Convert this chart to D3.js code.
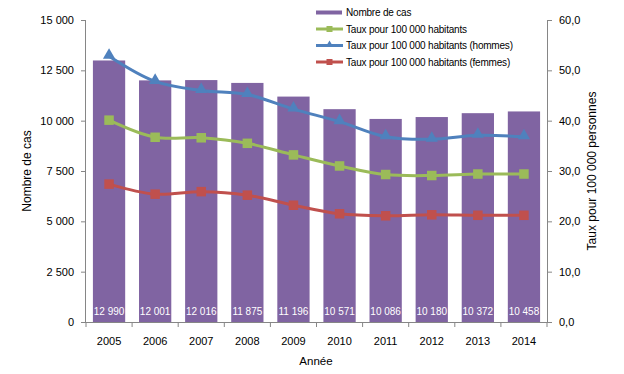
<!DOCTYPE html>
<html>
<head>
<meta charset="utf-8">
<script src="https://cdn.jsdelivr.net/npm/d3@7"></script>
<style>
  body { margin: 0; background: #fff; }
  svg { font-family: "Liberation Sans", Arial, sans-serif; }
</style>
</head>
<body>
<svg id="chart" width="624" height="374"></svg>
<script>
// data
const years = ['2005', '2006', '2007', '2008', '2009', '2010', '2011', '2012', '2013', '2014'];
const cases = [12990, 12001, 12016, 11875, 11196, 10571, 10086, 10180, 10372, 10458];
const rateAll = [40.1, 36.7, 36.6, 35.5, 33.2, 31.0, 29.3, 29.1, 29.4, 29.4];
const rateMen = [52.8, 47.8, 46.0, 45.2, 42.3, 39.8, 36.8, 36.3, 37.1, 36.8];
const rateWomen = [27.4, 25.4, 25.9, 25.2, 23.2, 21.5, 21.1, 21.3, 21.2, 21.2];
const leftTicks = [0, 2500, 5000, 7500, 10000, 12500, 15000];
const rightTicks = [0, 10, 20, 30, 40, 50, 60];

const svg = d3.select('#chart');
const plotLeft = 86, plotRight = 547, plotTop = 20, plotBottom = 322;
const axisColor = '#868686';

let x = d3.scaleBand().domain(years).range([plotLeft, plotRight]).paddingInner(0.3).paddingOuter(0.15);
let yL = d3.scaleLinear().domain([0, 15000]).range([plotBottom, plotTop]);
let yR = d3.scaleLinear().domain([0, 60]).range([plotBottom, plotTop]);

const fmtSpace = v => d3.format(',')(v).replace(/,/g, ' ');
const fmtComma = v => d3.format('.1f')(v).replace('.', ',');

// bars
svg.append('g')
    .selectAll('rect')
    .data(cases)
    .join('rect')
    .attr('x', (d, i) => x(years[i]))
    .attr('y', d => yL(d))
    .attr('width', x.bandwidth())
    .attr('height', d => plotBottom - yL(d))
    .attr('fill', '#8064a2');

svg.append('g')
    .selectAll('text')
    .data(cases)
    .join('text')
    .attr('x', (d, i) => x(years[i]) + x.bandwidth() / 2)
    .attr('y', 314.5)
    .attr('text-anchor', 'middle')
    .attr('font-size', 10)
    .attr('fill', '#fff')
    .text(d => fmtSpace(d));

// axes
let axL = svg.append('g')
    .attr('transform', `translate(${plotLeft},0)`)
    .call(d3.axisLeft(yL).tickValues(leftTicks).tickSize(5).tickPadding(7).tickFormat(fmtSpace));

let axR = svg.append('g')
    .attr('transform', `translate(${plotRight},0)`)
    .call(d3.axisRight(yR).tickValues(rightTicks).tickSize(5).tickPadding(7).tickFormat(fmtComma));

let axB = svg.append('g')
    .attr('transform', `translate(0,${plotBottom})`)
    .call(d3.axisBottom(x).tickSize(0).tickPadding(15));

// category boundary ticks
svg.append('g')
    .selectAll('line')
    .data(years.concat(['end']))
    .join('line')
    .attr('x1', (d, i) => plotLeft + i * x.step())
    .attr('x2', (d, i) => plotLeft + i * x.step())
    .attr('y1', plotBottom)
    .attr('y2', plotBottom + 5)
    .attr('stroke', axisColor);

[axL, axR, axB].forEach(a => {
    a.select('.domain').attr('stroke', axisColor);
    a.selectAll('.tick line').attr('stroke', axisColor);
    a.selectAll('.tick text').attr('font-size', 11).attr('fill', '#000');
    a.attr('font-family', null);
});
axL.select('.domain').attr('d', `M-0.5,${plotBottom}V${plotTop}`);
axR.select('.domain').attr('d', `M0.5,${plotBottom}V${plotTop}`);
axB.select('.domain').attr('d', `M${plotLeft},0.5H${plotRight}`);

// lines
const series = [
    { values: rateAll, color: '#9bbb59', marker: 'square' },
    { values: rateMen, color: '#4f81bd', marker: 'triangle' },
    { values: rateWomen, color: '#c0504d', marker: 'square' }
];

const cx = i => x(years[i]) + x.bandwidth() / 2;
const line = d3.line()
    .x((d, i) => cx(i))
    .y(d => yR(d))
    .curve(d3.curveCatmullRom.alpha(0.5));

function drawMarker(g, type, px, py, color, size) {
    if (type === 'square') {
        g.append('rect')
            .attr('x', px - size / 2).attr('y', py - size / 2)
            .attr('width', size).attr('height', size)
            .attr('fill', color);
    } else {
        const s = d3.symbol().type(d3.symbolTriangle).size(size * size * 0.45);
        g.append('path')
            .attr('d', s())
            .attr('transform', `translate(${px},${py - 1})`)
            .attr('fill', color);
    }
}

series.forEach(s => {
    const g = svg.append('g');
    g.append('path')
        .attr('d', line(s.values))
        .attr('fill', 'none')
        .attr('stroke', s.color)
        .attr('stroke-width', 3);
    s.values.forEach((v, i) => drawMarker(g, s.marker, cx(i), yR(v), s.color, s.marker === 'square' ? 9.5 : 12));
});

// legend
const legendItems = [
    { label: 'Nombre de cas', color: '#8064a2', marker: null },
    { label: 'Taux pour 100 000 habitants', color: '#9bbb59', marker: 'square' },
    { label: 'Taux pour 100 000 habitants (hommes)', color: '#4f81bd', marker: 'triangle' },
    { label: 'Taux pour 100 000 habitants (femmes)', color: '#c0504d', marker: 'square' }
];
const legend = svg.append('g');
legendItems.forEach((d, i) => {
    const ly = 12.5 + i * 16.5;
    if (d.marker === null) {
        legend.append('rect').attr('x', 316).attr('y', ly - 2).attr('width', 26).attr('height', 4).attr('fill', d.color);
    } else {
        legend.append('line').attr('x1', 316).attr('x2', 343).attr('y1', ly).attr('y2', ly)
            .attr('stroke', d.color).attr('stroke-width', 3);
        drawMarker(legend, d.marker, 329.5, ly, d.color, d.marker === 'square' ? 6 : 7);
    }
    legend.append('text')
        .attr('x', 346).attr('y', ly + 3.5)
        .attr('font-size', 10)
        .attr('letter-spacing', -0.2)
        .attr('fill', '#000')
        .text(d.label);
});

// titles
svg.append('text')
    .attr('transform', 'translate(31,171) rotate(-90)')
    .attr('text-anchor', 'middle')
    .attr('font-size', 12)
    .text('Nombre de cas');

svg.append('text')
    .attr('transform', 'translate(596,171) rotate(-90)')
    .attr('text-anchor', 'middle')
    .attr('font-size', 12)
    .text('Taux pour 100 000 personnes');

svg.append('text')
    .attr('x', 316).attr('y', 365)
    .attr('text-anchor', 'middle')
    .attr('font-size', 11.5)
    .text('Année');
</script>
</body>
</html>
